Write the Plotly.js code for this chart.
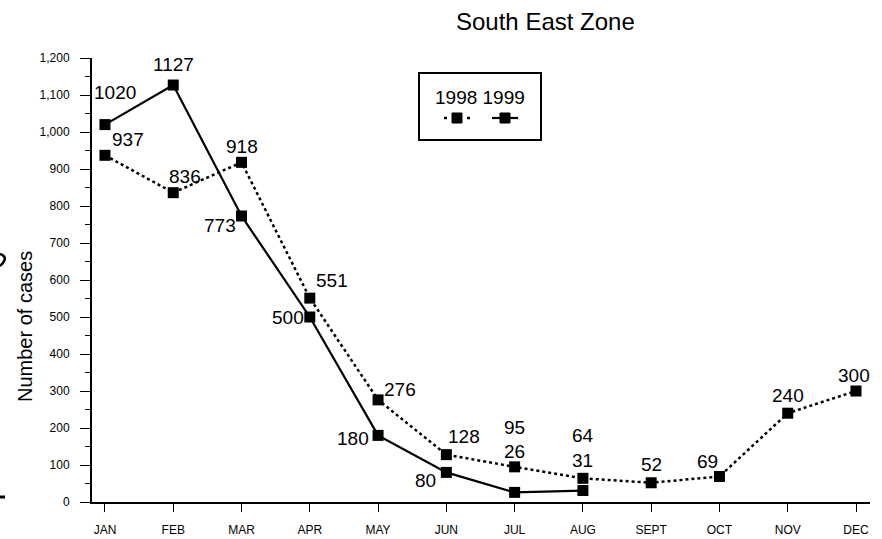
<!DOCTYPE html>
<html>
<head>
<meta charset="utf-8">
<script src="https://cdn.plot.ly/plotly-3.0.1.min.js"></script>
<style>html,body{margin:0;padding:0;background:#fff;}#chart{width:882px;height:539px;}</style>
</head>
<body>
<div id="chart"></div>
<script>
// ---- data ----
var months = ["JAN","FEB","MAR","APR","MAY","JUN","JUL","AUG","SEPT","OCT","NOV","DEC"];
var cases1998 = [937, 836, 918, 551, 276, 128, 95, 64, 52, 69, 240, 300];
var months1999 = ["JAN","FEB","MAR","APR","MAY","JUN","JUL","AUG"];
var cases1999 = [1020, 1127, 773, 500, 180, 80, 26, 31];
var yTickVals = [0,100,200,300,400,500,600,700,800,900,1000,1100,1200];
var titleText = "South East Zone";
var yTitleText = "Number of cases";

// ---- label placement (pixel offsets of value labels from their markers) ----
var off1998 = [[23,-16],[12,-16],[0,-16],[22,-18],[22,-10],[18,-18],[0,-39],[0,-43],[0,-18],[-12,-15],[0,-18],[-2,-16]];
var off1999 = [[10,-32],[0,-21],[-22,10],[-22,0],[-25,3],[-21,8],[0,-41],[0,-30]];

var FONT = "Liberation Sans, Arial, sans-serif";
var L = 92, R = 870, T = 58, B = 502; // plot-area pixel frame
function px(x){ return (x - L) / (R - L); }
function py(y){ return (B - y) / (B - T); }

var traces = [
  {x: months, y: cases1998, type: "scatter", mode: "lines+markers", name: "1998",
   line: {color: "#000", width: 2.5, dash: "dot"},
   marker: {symbol: "square", size: 11, color: "#000"}, cliponaxis: false, hoverinfo: "x+y"},
  {x: months1999, y: cases1999, type: "scatter", mode: "lines+markers", name: "1999",
   line: {color: "#000", width: 2.2},
   marker: {symbol: "square", size: 11, color: "#000"}, cliponaxis: false, hoverinfo: "x+y"}
];

var annotations = [];
function addLabels(xs, ys, offs){
  for (var i = 0; i < xs.length; i++){
    annotations.push({x: xs[i], y: ys[i], xref: "x", yref: "y", text: String(ys[i]),
      showarrow: false, xshift: offs[i][0], yshift: -offs[i][1],
      font: {family: FONT, size: 19, color: "#000"}, xanchor: "center", yanchor: "middle"});
  }
}
addLabels(months, cases1998, off1998);
addLabels(months1999, cases1999, off1999);

// title
annotations.push({xref: "paper", yref: "paper", x: px(545), y: py(21), text: titleText, showarrow: false,
  font: {family: FONT, size: 24, color: "#000"}, xanchor: "center", yanchor: "middle"});
// y-axis title
annotations.push({xref: "paper", yref: "paper", x: px(25), y: py(327), text: yTitleText, showarrow: false,
  textangle: -90, font: {family: FONT, size: 20, color: "#000"}, xanchor: "center", yanchor: "middle"});
// legend text
annotations.push({xref: "paper", yref: "paper", x: px(480), y: py(97), text: "1998 1999", showarrow: false,
  font: {family: FONT, size: 19, color: "#000"}, xanchor: "center", yanchor: "middle"});

// small clipped stroke at the far left edge (decoration seen in the source image)
var edgePath = "M" + px(0) + "," + py(254) + " Q" + px(6) + "," + py(256) + " " + px(4.5) + "," + py(260) +
               " Q" + px(3) + "," + py(264) + " " + px(0) + "," + py(266);

var shapes = [
  {type: "rect", xref: "paper", yref: "paper", x0: px(419), x1: px(541), y0: py(140), y1: py(73),
   line: {color: "#000", width: 2}, fillcolor: "#fff", layer: "below"},
  {type: "line", xref: "paper", yref: "paper", x0: px(444), x1: px(447), y0: py(118), y1: py(118),
   line: {color: "#000", width: 2.5}},
  {type: "line", xref: "paper", yref: "paper", x0: px(467), x1: px(470), y0: py(118), y1: py(118),
   line: {color: "#000", width: 2.5}},
  {type: "rect", xref: "paper", yref: "paper", x0: px(452), x1: px(462), y0: py(123), y1: py(113),
   line: {color: "#000", width: 1}, fillcolor: "#000"},
  {type: "line", xref: "paper", yref: "paper", x0: px(492), x1: px(518), y0: py(118), y1: py(118),
   line: {color: "#000", width: 2.2}},
  {type: "rect", xref: "paper", yref: "paper", x0: px(500), x1: px(510), y0: py(123), y1: py(113),
   line: {color: "#000", width: 1}, fillcolor: "#000"},
  {type: "path", xref: "paper", yref: "paper", path: edgePath, line: {color: "#000", width: 2.5}},
  {type: "line", xref: "paper", yref: "paper", x0: px(0), x1: px(5), y0: py(497), y1: py(497),
   line: {color: "#000", width: 3}}
];

var layout = {
  width: 882, height: 539,
  margin: {l: L, r: 882 - R, t: T, b: 539 - B, pad: 0},
  paper_bgcolor: "#fff", plot_bgcolor: "#fff",
  showlegend: false,
  font: {family: FONT, color: "#000"},
  xaxis: {type: "category", categoryorder: "array", categoryarray: months,
    range: [-0.19, 11.205], showgrid: false, zeroline: false,
    showline: true, linecolor: "#000", linewidth: 2,
    ticks: "outside", ticklen: 8, tickwidth: 1, tickcolor: "#000",
    tickfont: {family: FONT, size: 12, color: "#000"}, ticklabelstandoff: 8, fixedrange: true},
  yaxis: {range: [0, 1200], tickvals: yTickVals, tickformat: ",d", showgrid: false, zeroline: false,
    showline: true, linecolor: "#000", linewidth: 2,
    ticks: "outside", ticklen: 10, tickwidth: 1, tickcolor: "#000",
    minor: {dtick: 50, ticks: "outside", ticklen: 5, tickwidth: 1, tickcolor: "#000", showgrid: false},
    tickfont: {family: FONT, size: 12, color: "#000"}, ticklabelstandoff: 8, fixedrange: true},
  annotations: annotations,
  shapes: shapes
};

Plotly.newPlot("chart", traces, layout, {displayModeBar: false, staticPlot: true});
</script>
</body>
</html>
